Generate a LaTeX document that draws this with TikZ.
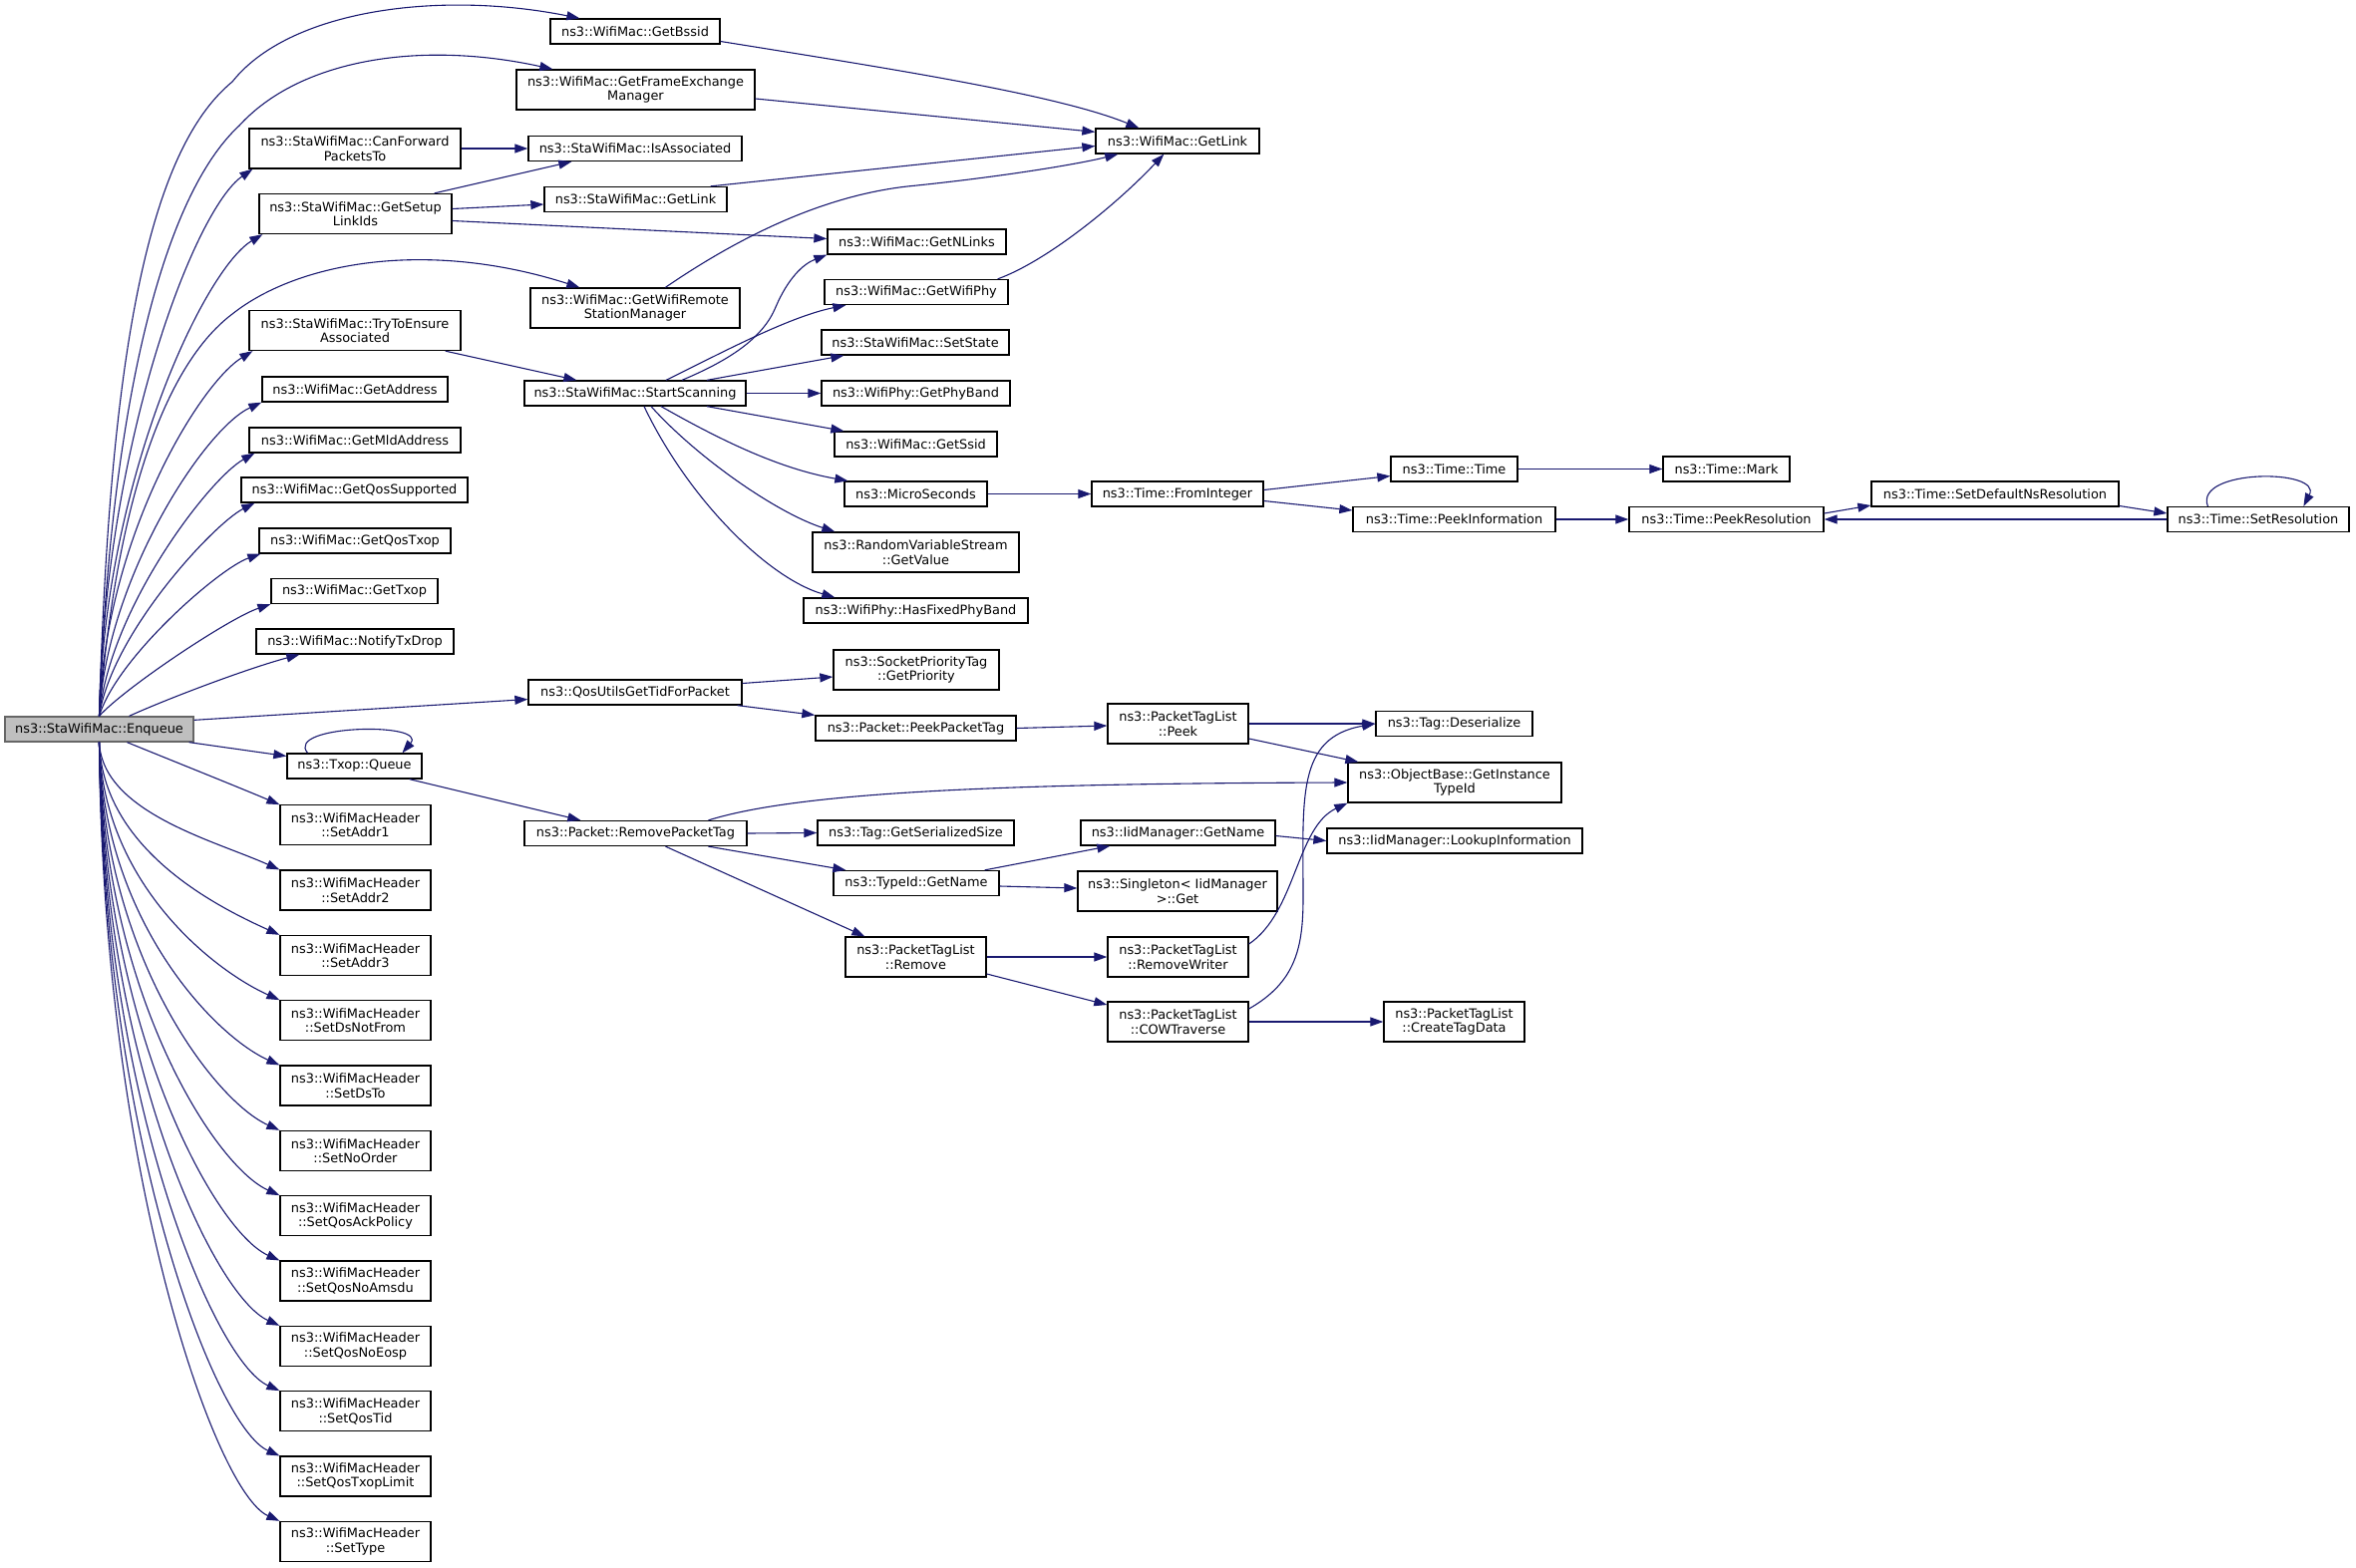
\documentclass[tikz,border=0pt]{standalone}
\usepackage{fontspec}
\setmainfont{DejaVu Sans}
\usetikzlibrary{arrows.meta}
\definecolor{cEdge}{RGB}{25,25,112}
\definecolor{cRoot}{RGB}{191,191,191}
\definecolor{cRootLine}{RGB}{102,102,102}
\tikzset{
  fn/.style={draw=black, line width=1.3pt, fill=white, align=center, inner sep=0pt, minimum height=25pt, font=\fontsize{12.9}{14.5}\selectfont},
  fn2/.style={fn, minimum height=40pt},
  bw/.style={minimum width=#1pt},
  root/.style={fn, fill=cRoot, draw=cRootLine},
  call/.style={draw=cEdge, line width=1.1pt, -{Triangle[length=13pt,width=9pt]}}
}
\begin{document}
\begin{tikzpicture}[x=1pt,y=-1pt]
    \useasboundingbox (0,0) rectangle (2363,1573);

    \node[root, bw=189] (enq) at (99.5,731.5) {ns3::StaWifiMac::Enqueue};

    \node[fn2, bw=212] (canfwd) at (356,149) {ns3::StaWifiMac::CanForward\\PacketsTo};
    \node[fn2, bw=193] (setup) at (356.5,214.5) {ns3::StaWifiMac::GetSetup\\LinkIds};
    \node[fn2, bw=212] (tryassoc) at (356,331.5) {ns3::StaWifiMac::TryToEnsure\\Associated};
    \node[fn, bw=186] (getaddr) at (356,390.5) {ns3::WifiMac::GetAddress};
    \node[fn, bw=212] (mld) at (356,441.5) {ns3::WifiMac::GetMldAddress};
    \node[fn, bw=227] (qossup) at (355.5,491.5) {ns3::WifiMac::GetQosSupported};
    \node[fn, bw=192] (qostxop) at (356,542.5) {ns3::WifiMac::GetQosTxop};
    \node[fn, bw=167] (txop) at (355.5,593) {ns3::WifiMac::GetTxop};
    \node[fn, bw=198] (notify) at (356,643.5) {ns3::WifiMac::NotifyTxDrop};
    \node[fn, bw=135] (queue) at (355.5,768.5) {ns3::Txop::Queue};
    \foreach \hd/\t [count=\i from 0] in {h1/SetAddr1, h2/SetAddr2, h3/SetAddr3, h4/SetDsNotFrom, h5/SetDsTo, h6/SetNoOrder, h7/SetQosAckPolicy, h8/SetQosNoAmsdu, h9/SetQosNoEosp, h10/SetQosTid, h11/SetQosTxopLimit, h12/SetType}
        \node[fn2, bw=151] (\hd) at (356.5,{827.8+65.33*\i}) {ns3::WifiMacHeader\\::\t};

    \node[fn, bw=170] (bssid) at (637,31.5) {ns3::WifiMac::GetBssid};
    \node[fn2, bw=239] (fem) at (637.5,90) {ns3::WifiMac::GetFrameExchange\\Manager};
    \node[fn, bw=214] (isassoc) at (637,149) {ns3::StaWifiMac::IsAssociated};
    \node[fn, bw=183] (stalink) at (637.5,200) {ns3::StaWifiMac::GetLink};
    \node[fn2, bw=210] (wrsm) at (637,309) {ns3::WifiMac::GetWifiRemote\\StationManager};
    \node[fn, bw=222] (scan) at (637,394.5) {ns3::StaWifiMac::StartScanning};
    \node[fn, bw=214] (qosutils) at (637,694.5) {ns3::QosUtilsGetTidForPacket};
    \node[fn, bw=223] (rpt) at (637.5,836) {ns3::Packet::RemovePacketTag};

    \node[fn, bw=164] (wmlink) at (1181,141.5) {ns3::WifiMac::GetLink};
    \node[fn, bw=179] (nlinks) at (919.5,242.5) {ns3::WifiMac::GetNLinks};
    \node[fn, bw=184] (wifiphy) at (919,293) {ns3::WifiMac::GetWifiPhy};
    \node[fn, bw=188] (setstate) at (918,343.5) {ns3::StaWifiMac::SetState};
    \node[fn, bw=189] (phyband) at (918.5,394.5) {ns3::WifiPhy::GetPhyBand};
    \node[fn, bw=163] (ssid) at (918.5,445.5) {ns3::WifiMac::GetSsid};
    \node[fn, bw=143] (micro) at (918.5,495.5) {ns3::MicroSeconds};
    \node[fn2, bw=207] (rvs) at (918.5,554) {ns3::RandomVariableStream\\::GetValue};
    \node[fn, bw=225] (fixed) at (918.5,612.5) {ns3::WifiPhy::HasFixedPhyBand};
    \node[fn2, bw=166] (prio) at (919,672) {ns3::SocketPriorityTag\\::GetPriority};
    \node[fn, bw=201] (peekpt) at (918.5,730.5) {ns3::Packet::PeekPacketTag};
    \node[fn, bw=197] (sersize) at (918.5,835.5) {ns3::Tag::GetSerializedSize};
    \node[fn, bw=166] (tidname) at (919,886) {ns3::TypeId::GetName};
    \node[fn2, bw=141] (ptlremove) at (918.5,960) {ns3::PacketTagList\\::Remove};

    \node[fn, bw=172] (fromint) at (1181,495.5) {ns3::Time::FromInteger};
    \node[fn2, bw=141] (ptlpeek) at (1181.5,726) {ns3::PacketTagList\\::Peek};
    \node[fn, bw=195] (iidname) at (1181.5,835.5) {ns3::IidManager::GetName};
    \node[fn2, bw=200] (singleton) at (1181,894) {ns3::Singleton< IidManager\\>::Get};
    \node[fn2, bw=141] (rmwriter) at (1181.5,960) {ns3::PacketTagList\\::RemoveWriter};
    \node[fn2, bw=141] (cow) at (1181.5,1025) {ns3::PacketTagList\\::COWTraverse};

    \node[fn, bw=127] (timetime) at (1458.5,470.5) {ns3::Time::Time};
    \node[fn, bw=203] (peekinfo) at (1458.5,521) {ns3::Time::PeekInformation};
    \node[fn, bw=157] (deser) at (1458.5,726) {ns3::Tag::Deserialize};
    \node[fn2, bw=214] (gitid) at (1459,785) {ns3::ObjectBase::GetInstance\\TypeId};
    \node[fn, bw=256] (lookup) at (1459,843.5) {ns3::IidManager::LookupInformation};
    \node[fn2, bw=141] (createtag) at (1458.5,1025) {ns3::PacketTagList\\::CreateTagData};

    \node[fn, bw=127] (mark) at (1731.5,470.5) {ns3::Time::Mark};
    \node[fn, bw=195] (peekres) at (1731.5,521) {ns3::Time::PeekResolution};
    \node[fn, bw=248] (setdef) at (2001,495.5) {ns3::Time::SetDefaultNsResolution};
    \node[fn, bw=182] (setres) at (2265,521) {ns3::Time::SetResolution};

    \draw[call] (enq.north) .. controls (110,350) and (150,150) .. (233,82) .. controls (290,10) and (440,-10) .. ([xshift=30pt]bssid.north west);
    \draw[call] (enq.north) .. controls (110,420) and (160,200) .. (240,126) .. controls (300,60) and (420,40) .. ([xshift=37pt]fem.north west);
    \draw[call] (enq.north) .. controls (105,445) and (195,210) .. ([xshift=4pt]canfwd.south west);
    \draw[call] (enq.north) .. controls (105,480) and (205,270) .. ([xshift=4pt]setup.south west);
    \draw[call] (enq.north) .. controls (115,520) and (160,370) .. (233,315) .. controls (300,262) and (430,240) .. ([xshift=50pt]wrsm.north west);
    \draw[call] (enq.north) .. controls (105,540) and (200,385) .. ([xshift=4pt]tryassoc.south west);
    \draw[call] (enq.north) .. controls (107,580) and (205,430) .. (getaddr.south west);
    \draw[call] (enq.north) .. controls (110,610) and (210,480) .. ([xshift=6pt]mld.south west);
    \draw[call] (enq.north) .. controls (112,635) and (215,525) .. ([xshift=14pt]qossup.south west);
    \draw[call] (enq.north) .. controls (117,660) and (220,570) .. ([xshift=2pt]qostxop.south west);
    \draw[call] (enq.north) .. controls (125,690) and (230,620) .. (txop.south west);
    \draw[call] ([xshift=30pt]enq.north) .. controls (170,700) and (250,670) .. ([xshift=44pt]notify.south west);
    \draw[call] ([yshift=-4pt]enq.north east) -- ([yshift=-7pt]qosutils.west);
    \draw[call] ([xshift=-5pt]enq.south east) -- ([yshift=10pt]queue.west);
    \draw[call] ([xshift=28pt]enq.south) .. controls (170,762) and (240,790) .. (h1.north west);
    \foreach \hd [count=\k from 1] in {h2,h3,h4,h5,h6,h7,h8,h9,h10,h11,h12} {
        \pgfmathsetmacro\ty{807.8+65.33*\k}
        \draw[call] (enq.south) .. controls (103,{744+0.55*(\ty-744)}) and (215,\ty-30) .. (\hd.north west);
    }

    \draw[call] ([yshift=-10pt]bssid.east) .. controls (900,70) and (1060,95) .. ([xshift=44pt]wmlink.north west);
    \draw[call] ([yshift=-9pt]fem.east) -- ([yshift=-4pt]wmlink.north west);
    \draw[call] (canfwd.east) -- (isassoc.west);
    \draw[call] ([xshift=-18pt]setup.north east) -- ([xshift=44pt]isassoc.south west);
    \draw[call] ([yshift=5pt]setup.east) -- ([yshift=-5pt]stalink.west);
    \draw[call] ([yshift=-7pt]setup.east) -- ([yshift=3pt]nlinks.west);
    \draw[call] ([xshift=-17pt]stalink.north east) -- ([yshift=-5pt]wmlink.west);
    \draw[call] ([xshift=136pt]wrsm.north west) .. controls (760,225) and (840,195) .. (910,187) .. controls (1000,178) and (1080,165) .. ([xshift=23pt]wmlink.south west);
    \draw[call] ([xshift=-16pt]tryassoc.south east) -- ([xshift=53pt]scan.north west);

    \draw[call] ([xshift=47pt]scan.north) .. controls (730,362) and (765,340) .. (778,308) .. controls (790,280) and (805,265) .. (nlinks.south west);
    \draw[call] ([xshift=31pt]scan.north) .. controls (720,356) and (790,318) .. ([xshift=22pt]wifiphy.south west);
    \draw[call] ([xshift=-11pt]wifiphy.north east) .. controls (1050,262) and (1120,205) .. ([xshift=69pt]wmlink.south west);
    \draw[call] ([xshift=72pt]scan.north) -- ([xshift=23pt]setstate.south west);
    \draw[call] (scan.east) -- (phyband.west);
    \draw[call] ([xshift=72pt]scan.south) -- ([xshift=10pt]ssid.north west);
    \draw[call] ([xshift=26pt]scan.south) .. controls (720,440) and (780,470) .. ([xshift=4pt]micro.north west);
    \draw[call] ([xshift=16pt]scan.south) .. controls (700,460) and (780,515) .. ([xshift=23pt]rvs.north west);
    \draw[call] ([xshift=9pt]scan.south) .. controls (690,500) and (770,580) .. ([xshift=32pt]fixed.north west);

    \draw[call] (micro.east) -- (fromint.west);
    \draw[call] ([yshift=4pt]fromint.east) -- ([yshift=-7pt]timetime.west);
    \draw[call] ([yshift=-7pt]fromint.east) -- ([yshift=9pt]peekinfo.west);
    \draw[call] (timetime.east) -- (mark.west);
    \draw[call] (peekinfo.east) -- (peekres.west);
    \draw[call] ([yshift=6pt]peekres.east) -- ([yshift=-11.5pt]setdef.west);
    \draw[call] ([yshift=-12pt]setdef.east) -- ([yshift=6pt]setres.west);
    \draw[call] (setres.west) -- (peekres.east);
    \draw[call] ([xshift=41pt]setres.north west) .. controls (2200,470) and (2330,470) .. ([xshift=137pt]setres.north west);

    \draw[call] ([yshift=9pt]qosutils.east) -- ([yshift=-7pt]prio.west);
    \draw[call] ([xshift=-5pt]qosutils.south east) -- (peekpt.north west);
    \draw[call] (peekpt.east) -- ([yshift=-2pt]ptlpeek.west);
    \draw[call] (ptlpeek.east) -- (deser.west);
    \draw[call] ([yshift=-15pt]ptlpeek.east) -- ([xshift=11pt]gitid.north west);

    \draw[call] ([xshift=-47pt]queue.north) .. controls (285,727) and (430,724) .. ([xshift=48pt]queue.north);
    \draw[call] ([xshift=-13pt]queue.south east) -- ([xshift=57pt]rpt.north west);
    \draw[call] ([xshift=73pt]rpt.north) .. controls (800,795) and (1000,786) .. (gitid.west);
    \draw[call] (rpt.east) -- (sersize.west);
    \draw[call] ([xshift=73pt]rpt.south) -- ([xshift=13pt]tidname.north west);
    \draw[call] ([xshift=30pt]rpt.south) -- ([xshift=20pt]ptlremove.north west);
    \draw[call] ([xshift=-15pt]tidname.north east) -- ([xshift=30pt]iidname.south west);
    \draw[call] ([yshift=-3pt]tidname.east) -- ([yshift=3pt]singleton.west);
    \draw[call] ([yshift=-3pt]iidname.east) -- (lookup.west);
    \draw[call] (ptlremove.east) -- (rmwriter.west);
    \draw[call] ([yshift=-17pt]ptlremove.east) -- ([yshift=17pt]cow.west);
    \draw[call] ([yshift=13pt]rmwriter.east) .. controls (1300,915) and (1300,830) .. (gitid.south west);
    \draw[call] ([yshift=13pt]cow.east) .. controls (1300,985) and (1307,950) .. (1307,900) .. controls (1307,800) and (1300,740) .. (deser.west);
    \draw[call] (cow.east) -- (createtag.west);
\end{tikzpicture}
\end{document}
